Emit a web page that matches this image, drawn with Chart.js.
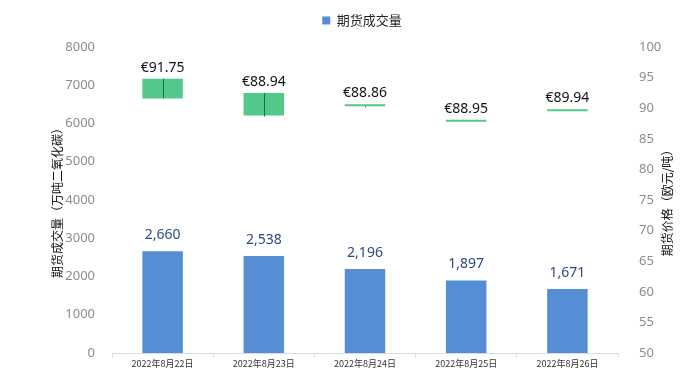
<!DOCTYPE html>
<html>
<head>
<meta charset="utf-8">
<script src="https://cdn.jsdelivr.net/npm/chart.js@4/dist/chart.umd.min.js"></script>
<style>
  html, body { margin: 0; padding: 0; background: #ffffff; }
  #wrap { width: 688px; height: 382px; position: relative; }
</style>
</head>
<body>
<div id="wrap"><canvas id="c" width="688" height="382"></canvas></div>
<script>
// ---- data ----
const categories = ['2022年8月22日', '2022年8月23日', '2022年8月24日', '2022年8月25日', '2022年8月26日'];
const volume = [2660, 2538, 2196, 1897, 1671];
const priceOpen = [94.8, 92.5, 90.3, 87.8, 89.5];
const priceClose = [91.6, 88.8, 90.3, 87.8, 89.5];
const priceHigh = [94.8, 92.5, 90.3, 87.8, 89.5];
const priceLow = [91.6, 88.65, 90.1, 87.8, 89.5];
const priceLabels = ['€91.75', '€88.94', '€88.86', '€88.95', '€89.94'];
const volumeTicks = { min: 0, max: 8000, step: 1000 };
const priceTicks = { min: 50, max: 100, step: 5 };
const leftTitle = '期货成交量（万吨二氧化碳）';
const rightTitle = '期货价格（欧元/吨）';

const FONT = "'Noto Sans', 'Noto Sans CJK SC', sans-serif";
const CJK = "'Noto Sans CJK SC', 'Noto Sans', sans-serif";

const labelPlugin = {
  id: 'labels',
  afterInit(chart) {
    const lg = chart.legend;
    if (lg && !lg._patched) {
      const orig = lg.fit.bind(lg);
      lg.fit = function () { orig(); this.height += 10; };
      lg._patched = true;
    }
  },
  afterDraw(chart) {
    const ctx = chart.ctx;
    const y1 = chart.scales.y1;
    const ca = chart.chartArea;
    ctx.save();
    // right axis title, reading bottom-to-top
    ctx.fillStyle = '#111111';
    ctx.font = '12px ' + CJK;
    ctx.textAlign = 'center';
    ctx.textBaseline = 'middle';
    ctx.translate(y1.right - 7, (ca.top + ca.bottom) / 2);
    ctx.rotate(-Math.PI / 2);
    ctx.fillText(rightTitle, 0, 0);
    ctx.restore();
  },
  afterDatasetsDraw(chart) {
    const ctx = chart.ctx;
    const y1 = chart.scales.y1;
    // wicks
    const pm = chart.getDatasetMeta(1);
    ctx.save();
    ctx.strokeStyle = '#17733c';
    ctx.lineWidth = 1;
    pm.data.forEach((el, i) => {
      const top = y1.getPixelForValue(priceHigh[i]);
      const bot = y1.getPixelForValue(priceLow[i]);
      if (bot - top > 0.5) {
        ctx.beginPath();
        ctx.moveTo(Math.round(el.x) + 0.5, top);
        ctx.lineTo(Math.round(el.x) + 0.5, bot);
        ctx.stroke();
      }
    });
    // price labels
    ctx.fillStyle = '#111111';
    ctx.font = '14px ' + FONT;
    ctx.textAlign = 'center';
    ctx.textBaseline = 'middle';
    pm.data.forEach((el, i) => {
      const top = Math.min(el.y, el.base);
      ctx.fillText(priceLabels[i], el.x, top - 11);
    });
    // volume labels
    const vm = chart.getDatasetMeta(0);
    ctx.fillStyle = '#2b4a7e';
    vm.data.forEach((el, i) => {
      ctx.fillText(volume[i].toLocaleString('en-US'), el.x, el.y - 16);
    });
    ctx.restore();
  }
};

new Chart(document.getElementById('c'), {
  type: 'bar',
  data: {
    labels: categories,
    datasets: [
      {
        label: '期货成交量',
        data: volume,
        backgroundColor: '#558ed5',
        yAxisID: 'y',
        grouped: false,
        categoryPercentage: 0.8,
        barPercentage: 0.5,
        order: 2
      },
      {
        label: '期货价格',
        data: priceOpen.map((o, i) => [o, priceClose[i]]),
        backgroundColor: '#52c98a',
        yAxisID: 'y1',
        grouped: false,
        categoryPercentage: 0.8,
        barPercentage: 0.5,
        minBarLength: 2,
        order: 1
      }
    ]
  },
  options: {
    responsive: false,
    animation: false,
    layout: { padding: { left: 50, right: 14, top: 8, bottom: 0 } },
    plugins: {
      tooltip: { enabled: false },
      legend: {
        position: 'top',
        labels: {
          boxWidth: 8, boxHeight: 8, padding: 6,
          color: '#222222',
          font: { family: CJK, size: 13 },
          filter: (item) => item.datasetIndex === 0
        }
      }
    },
    scales: {
      x: {
        offset: true,
        grid: { display: true, offset: true, drawOnChartArea: false, tickLength: 4, color: '#d5dde8' },
        border: { display: true, color: '#d5dde8' },
        ticks: { color: '#333333', font: { family: CJK, size: 9 }, padding: 1, maxRotation: 0 },
        afterFit(s) { s.height = 29; }
      },
      y: {
        position: 'left',
        min: volumeTicks.min, max: volumeTicks.max,
        grid: { display: false },
        border: { display: false },
        ticks: { stepSize: volumeTicks.step, color: '#8c8c8c', font: { family: FONT, size: 13 }, padding: 9,
                 callback: (v) => String(v) },
        title: { display: true, text: leftTitle, color: '#111111', font: { family: CJK, size: 12 }, padding: 0 },
        afterFit(s) { s.width = 62; }
      },
      y1: {
        position: 'right',
        min: priceTicks.min, max: priceTicks.max,
        grid: { display: false },
        border: { display: false },
        ticks: { stepSize: priceTicks.step, color: '#8c8c8c', font: { family: FONT, size: 13 }, padding: 13 },
        afterFit(s) { s.width = 56; }
      }
    }
  },
  plugins: [labelPlugin]
});
</script>
</body>
</html>
